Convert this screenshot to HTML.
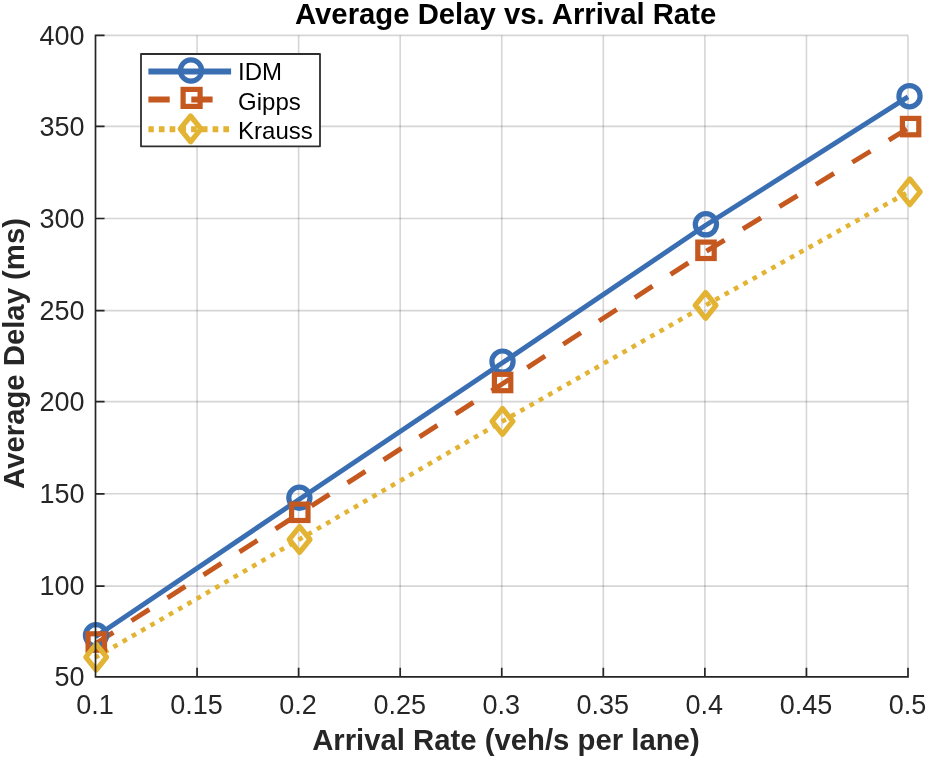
<!DOCTYPE html><html><head><meta charset="utf-8"><style>html,body{margin:0;padding:0;background:#fff;}svg{display:block;will-change:transform;}text{font-family:"Liberation Sans",sans-serif;}</style></head><body>
<svg width="931" height="761" viewBox="0 0 931 761">
<rect width="931" height="761" fill="#fff"/>
<path d="M197.06 35.40V676.90M298.62 35.40V676.90M400.19 35.40V676.90M501.75 35.40V676.90M603.31 35.40V676.90M704.88 35.40V676.90M806.44 35.40V676.90M908.00 35.40V676.90" stroke="#262626" stroke-opacity="0.19" stroke-width="1.6" fill="none"/>
<path d="M95.50 586.10H908.00M95.50 493.80H908.00M95.50 401.60H908.00M95.50 310.60H908.00M95.50 218.50H908.00M95.50 126.35H908.00M95.50 35.40H908.00" stroke="#262626" stroke-opacity="0.19" stroke-width="1.6" fill="none"/>
<polyline points="95.50,657.40 298.62,539.80 501.75,421.70 704.88,305.70 908.00,192.10" fill="none" stroke="#e3b333" stroke-width="4.6" stroke-dasharray="4.7 5.991" stroke-dashoffset="0.65"/>
<polyline points="95.50,643.80 298.62,514.10 501.75,384.30 704.88,252.10 908.00,128.40" fill="none" stroke="#c5581f" stroke-width="4.9" stroke-dasharray="21.2 21.52"/>
<polyline points="95.50,636.80 298.62,499.70 501.75,363.30 704.88,225.80 908.00,96.90" fill="none" stroke="#3a6eb3" stroke-width="4.9"/>
<circle cx="96.00" cy="635.30" r="10.6" fill="none" stroke="#3a6eb3" stroke-width="5.2"/>
<circle cx="299.40" cy="497.80" r="10.6" fill="none" stroke="#3a6eb3" stroke-width="5.2"/>
<circle cx="502.50" cy="361.60" r="10.6" fill="none" stroke="#3a6eb3" stroke-width="5.2"/>
<circle cx="705.90" cy="224.30" r="10.6" fill="none" stroke="#3a6eb3" stroke-width="5.2"/>
<circle cx="909.50" cy="96.20" r="10.6" fill="none" stroke="#3a6eb3" stroke-width="5.2"/>
<rect x="88.10" y="633.80" width="16.40" height="16.40" fill="none" stroke="#c5581f" stroke-width="5.2"/>
<rect x="291.60" y="504.10" width="16.40" height="16.40" fill="none" stroke="#c5581f" stroke-width="5.2"/>
<rect x="494.40" y="374.30" width="16.40" height="16.40" fill="none" stroke="#c5581f" stroke-width="5.2"/>
<rect x="697.80" y="242.10" width="16.40" height="16.40" fill="none" stroke="#c5581f" stroke-width="5.2"/>
<rect x="902.40" y="118.40" width="16.40" height="16.40" fill="none" stroke="#c5581f" stroke-width="5.2"/>
<path d="M96.20 644.20L106.60 657.10L96.20 670.00L85.80 657.10Z" fill="none" stroke="#e3b333" stroke-width="5.2" stroke-linejoin="round"/>
<path d="M299.60 526.60L310.00 539.50L299.60 552.40L289.20 539.50Z" fill="none" stroke="#e3b333" stroke-width="5.2" stroke-linejoin="round"/>
<path d="M502.50 408.50L512.90 421.40L502.50 434.30L492.10 421.40Z" fill="none" stroke="#e3b333" stroke-width="5.2" stroke-linejoin="round"/>
<path d="M705.60 292.50L716.00 305.40L705.60 318.30L695.20 305.40Z" fill="none" stroke="#e3b333" stroke-width="5.2" stroke-linejoin="round"/>
<path d="M909.80 178.90L920.20 191.80L909.80 204.70L899.40 191.80Z" fill="none" stroke="#e3b333" stroke-width="5.2" stroke-linejoin="round"/>
<path d="M95.50 35.40V676.90H908.00M95.50 676.90v-8.2M197.06 676.90v-8.2M298.62 676.90v-8.2M400.19 676.90v-8.2M501.75 676.90v-8.2M603.31 676.90v-8.2M704.88 676.90v-8.2M806.44 676.90v-8.2M908.00 676.90v-8.2M95.50 676.90h8.2M95.50 586.10h8.2M95.50 493.80h8.2M95.50 401.60h8.2M95.50 310.60h8.2M95.50 218.50h8.2M95.50 126.35h8.2M95.50 35.40h8.2" stroke="#262626" stroke-width="1.7" fill="none" stroke-linecap="square" stroke-linejoin="round"/>
<text x="95.00" y="713.6" font-size="27" fill="#262626" text-anchor="middle">0.1</text>
<text x="196.56" y="713.6" font-size="27" fill="#262626" text-anchor="middle">0.15</text>
<text x="298.12" y="713.6" font-size="27" fill="#262626" text-anchor="middle">0.2</text>
<text x="399.69" y="713.6" font-size="27" fill="#262626" text-anchor="middle">0.25</text>
<text x="501.25" y="713.6" font-size="27" fill="#262626" text-anchor="middle">0.3</text>
<text x="602.81" y="713.6" font-size="27" fill="#262626" text-anchor="middle">0.35</text>
<text x="704.38" y="713.6" font-size="27" fill="#262626" text-anchor="middle">0.4</text>
<text x="805.94" y="713.6" font-size="27" fill="#262626" text-anchor="middle">0.45</text>
<text x="907.50" y="713.6" font-size="27" fill="#262626" text-anchor="middle">0.5</text>
<text x="84.5" y="686.20" font-size="27" fill="#262626" text-anchor="end">50</text>
<text x="84.5" y="595.40" font-size="27" fill="#262626" text-anchor="end">100</text>
<text x="84.5" y="503.10" font-size="27" fill="#262626" text-anchor="end">150</text>
<text x="84.5" y="410.90" font-size="27" fill="#262626" text-anchor="end">200</text>
<text x="84.5" y="319.90" font-size="27" fill="#262626" text-anchor="end">250</text>
<text x="84.5" y="227.80" font-size="27" fill="#262626" text-anchor="end">300</text>
<text x="84.5" y="135.65" font-size="27" fill="#262626" text-anchor="end">350</text>
<text x="84.5" y="44.70" font-size="27" fill="#262626" text-anchor="end">400</text>
<text x="505.6" y="24.2" font-size="29.3" font-weight="bold" fill="#000" text-anchor="middle">Average Delay vs. Arrival Rate</text>
<text x="505.9" y="749.5" font-size="29.3" font-weight="bold" fill="#262626" text-anchor="middle">Arrival Rate (veh/s per lane)</text>
<text transform="translate(23.6 353.5) rotate(-90)" x="0" y="0" font-size="29.3" font-weight="bold" fill="#262626" text-anchor="middle">Average Delay (ms)</text>
<rect x="141" y="54" width="179" height="92.3" fill="#fff" stroke="#2e2e2e" stroke-width="1.8" stroke-linejoin="round"/>
<path d="M148.4 71.4H231.1" stroke="#3a6eb3" stroke-width="6.0" fill="none"/>
<path d="M148.4 99.4H231.1" stroke="#c5581f" stroke-width="6.0" fill="none" stroke-dasharray="21.3 21.6"/>
<path d="M148.4 129.2H231.1" stroke="#e3b333" stroke-width="6.0" fill="none" stroke-dasharray="5.7 5.05" stroke-dashoffset="0.3"/>
<circle cx="191.00" cy="70.50" r="10.6" fill="none" stroke="#3a6eb3" stroke-width="5.2"/>
<rect x="183.10" y="89.40" width="17.00" height="17.00" fill="none" stroke="#c5581f" stroke-width="5.2"/>
<path d="M190.60 116.00L201.00 128.90L190.60 141.80L180.20 128.90Z" fill="none" stroke="#e3b333" stroke-width="5.2" stroke-linejoin="round"/>
<text x="238.1" y="80.1" font-size="24" fill="#000">IDM</text>
<text x="238.1" y="109.6" font-size="24" fill="#000">Gipps</text>
<text x="238.1" y="139.0" font-size="24" fill="#000">Krauss</text>
</svg></body></html>
